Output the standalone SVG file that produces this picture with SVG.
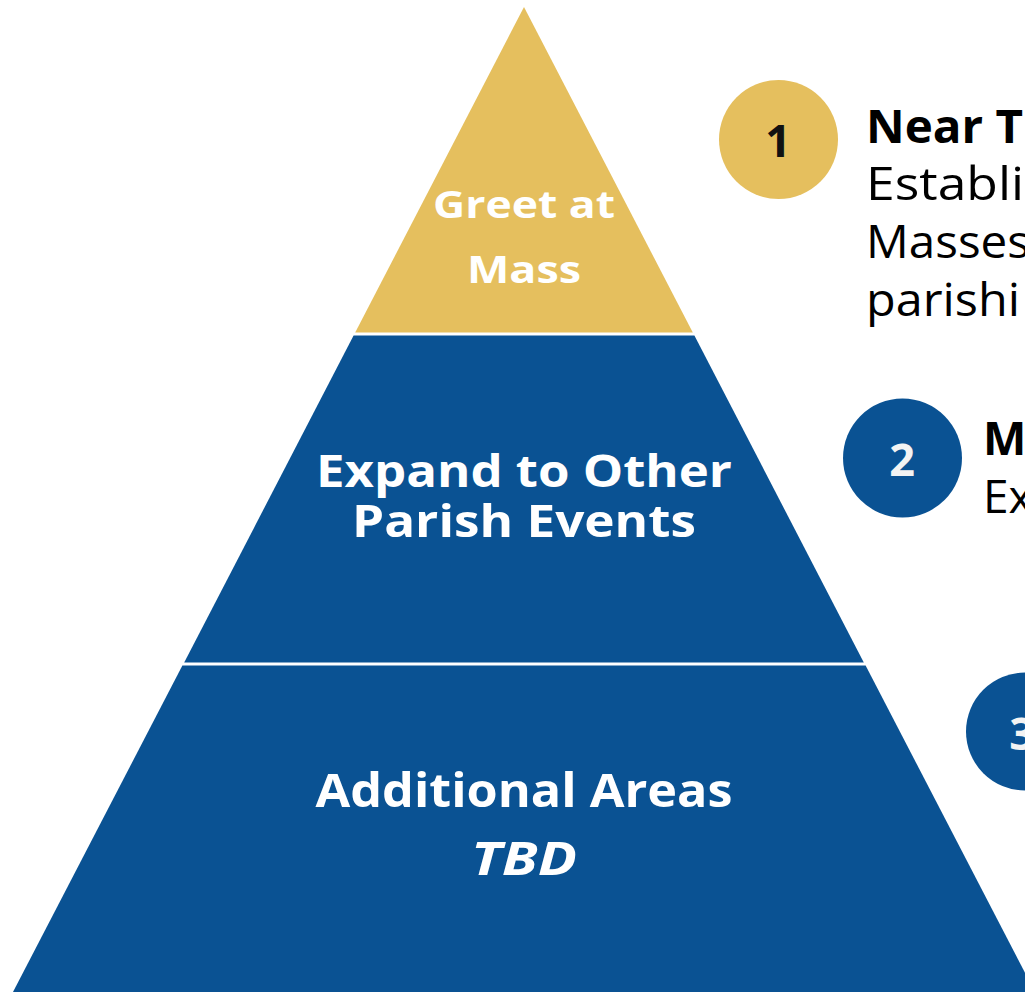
<svg xmlns="http://www.w3.org/2000/svg" width="1025" height="992" viewBox="0 0 1025 992">
<style>
.gold{fill:#E5BF5E}
.blue{fill:#0A5293}
.pt{font-family:"Open Sans","Liberation Sans",sans-serif;font-weight:700;fill:#FFFFFF;text-anchor:middle}
.num{font-family:"Open Sans","Liberation Sans",sans-serif;font-weight:700;font-size:45px;text-anchor:middle}
.hd{font-family:"Open Sans","Liberation Sans",sans-serif;font-weight:700;font-size:46px;fill:#000}
.bd{font-family:"Open Sans","Liberation Sans",sans-serif;font-weight:400;font-size:46px;fill:#000}
</style>
<rect width="1025" height="992" fill="#FFFFFF"/>
<g id="tier1">
<polygon class="gold" points="524,7 692.8,332.5 355.2,332.5"/>
<text class="pt" x="524" y="218" font-size="38" textLength="182" lengthAdjust="spacingAndGlyphs">Greet at</text>
<text class="pt" x="524" y="283" font-size="38" textLength="114" lengthAdjust="spacingAndGlyphs">Mass</text>
</g>
<g id="tier2">
<polygon class="blue" points="353.6,335.5 694.4,335.5 863.8,662.5 184.2,662.5"/>
<text class="pt" x="524" y="487" font-size="45" textLength="416" lengthAdjust="spacingAndGlyphs">Expand to Other</text>
<text class="pt" x="524" y="537" font-size="45" textLength="344" lengthAdjust="spacingAndGlyphs">Parish Events</text>
</g>
<g id="tier3">
<polygon class="blue" points="182.4,665.5 865.6,665.5 1035,992 13,992"/>
<text class="pt" x="524" y="807" font-size="46" textLength="417" lengthAdjust="spacingAndGlyphs">Additional Areas</text>
<text class="pt" x="524" y="875" font-size="46" font-style="italic" textLength="106" lengthAdjust="spacingAndGlyphs">TBD</text>
</g>
<g id="step1">
<circle class="gold" cx="778.5" cy="139.5" r="59.5"/>
<text class="num" x="778" y="157" fill="#111111">1</text>
<text class="hd" x="866" y="143" textLength="157" lengthAdjust="spacingAndGlyphs">Near T</text>
<text class="bd" x="866" y="200" textLength="158" lengthAdjust="spacingAndGlyphs">Establi</text>
<text class="bd" x="866" y="258" textLength="164" lengthAdjust="spacingAndGlyphs">Masses</text>
<text class="bd" x="866" y="316" textLength="154" lengthAdjust="spacingAndGlyphs">parishi</text>
</g>
<g id="step2">
<circle class="blue" cx="902.5" cy="458" r="59.5"/>
<text class="num" x="902" y="476" fill="#F3F3F3">2</text>
<text class="hd" x="983" y="455">M</text>
<text class="bd" x="983" y="513">Ex</text>
</g>
<g id="step3">
<circle class="blue" cx="1025" cy="731.5" r="59"/>
<text class="num" x="1022" y="750" fill="#F3F3F3">3</text>
</g>
<g id="connectors"/>
</svg>
